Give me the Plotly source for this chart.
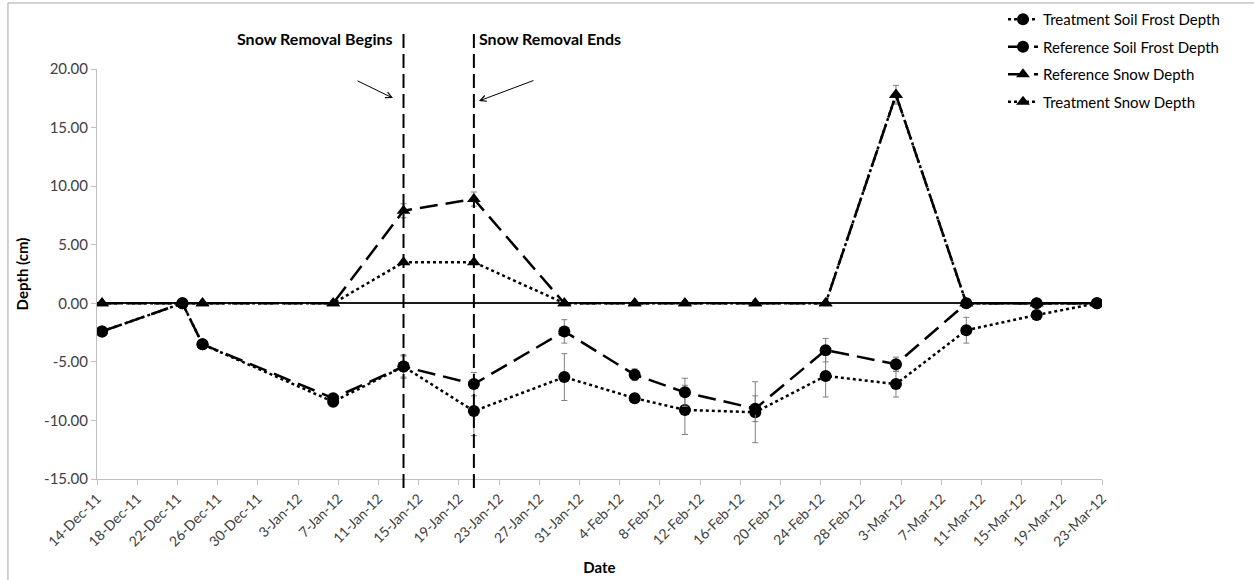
import pandas as pd
import plotly.graph_objects as go

# ---- data ----
dates = ["2011-12-14", "2011-12-22", "2011-12-24", "2012-01-06", "2012-01-13",
         "2012-01-20", "2012-01-29", "2012-02-05", "2012-02-10", "2012-02-17",
         "2012-02-24", "2012-03-02", "2012-03-09", "2012-03-16", "2012-03-22"]

treat_frost = [-2.4, 0.0, -3.5, -8.4, -5.4, -9.2, -6.3, -8.1, -9.1, -9.3, -6.2, -6.9, -2.3, -1.0, 0.0]
treat_frost_err = [None, None, None, 0.3, 0.9, 2.1, 2.0, 0.4, 2.1, 2.6, 1.8, 1.1, 1.1, None, None]

ref_frost = [-2.4, 0.0, -3.5, -8.1, -5.4, -6.9, -2.4, -6.1, -7.6, -9.0, -4.0, -5.2, 0.0, 0.0, 0.0]
ref_frost_err = [None, None, None, 0.3, 1.0, 1.0, 1.0, 0.5, 1.2, 1.1, 1.0, 0.6, None, None, None]

ref_snow = [0.0, None, 0.0, 0.0, 7.9, 8.9, 0.0, 0.0, 0.0, 0.0, 0.0, 17.8, 0.0, 0.0, 0.0]
ref_snow_err = [None, None, None, None, 0.6, 0.6, None, None, None, None, None, 0.8, None, None, None]

treat_snow = [0.0, None, 0.0, 0.0, 3.5, 3.5, 0.0, 0.0, 0.0, 0.0, 0.0, 17.8, 0.0, 0.0, 0.0]

removal_dates = ["2012-01-13", "2012-01-20"]

y_tick_vals = [-15, -10, -5, 0, 5, 10, 15, 20]
y_tick_text = ["-15.00", "-10.00", "-5.00", "0.00", "5.00", "10.00", "15.00", "20.00"]

# Excel date axis places each point in the middle of its day
x = pd.to_datetime(dates) + pd.Timedelta(hours=12)
xr = [pd.Timestamp(d) + pd.Timedelta(hours=12) for d in removal_dates]

FONT = "Lato"
TXT = "#404040"
DASH_LONG = "18px,8px"

fig = go.Figure()

def err(arr):
    return dict(type="data", array=arr, color="#7f7f7f", thickness=1, width=3)

fig.add_trace(go.Scatter(
    x=x, y=treat_frost, name="Treatment Soil Frost Depth", mode="lines+markers",
    line=dict(color="black", width=2.5, dash="dot"),
    marker=dict(symbol="circle", size=12, color="black"),
    error_y=err(treat_frost_err), legendgroup="g1", connectgaps=True))
fig.add_trace(go.Scatter(
    x=x, y=ref_frost, name="Reference Soil Frost Depth", mode="lines+markers",
    line=dict(color="black", width=2.5, dash=DASH_LONG),
    marker=dict(symbol="circle", size=12, color="black"),
    error_y=err(ref_frost_err), legendgroup="g2", connectgaps=True))
fig.add_trace(go.Scatter(
    x=x, y=ref_snow, name="Reference Snow Depth", mode="lines+markers",
    line=dict(color="black", width=2.5, dash=DASH_LONG),
    marker=dict(symbol="triangle-up", size=12, color="black"),
    error_y=err(ref_snow_err), legendgroup="g3", connectgaps=True))
fig.add_trace(go.Scatter(
    x=x, y=treat_snow, name="Treatment Snow Depth", mode="lines+markers",
    line=dict(color="black", width=2.5, dash="dot"),
    marker=dict(symbol="triangle-up", size=12, color="black"),
    legendgroup="g4", connectgaps=True))

# vertical snow removal lines
for d in xr:
    fig.add_shape(type="line", xref="x", yref="paper", x0=d, x1=d, y0=-0.022, y1=1.093,
                  line=dict(color="black", width=2, dash="14px,6px"))

# outer chart border
fig.add_shape(type="rect", xref="paper", yref="paper", x0=-0.0886, x1=1.4, y0=-0.5, y1=1.161,
              line=dict(color="#a6a6a6", width=1))

fig.add_annotation(text="<b>Snow Removal Begins</b>", xref="paper", yref="paper",
                   x=0.2965, y=1.0756, xanchor="right", yanchor="middle", showarrow=False,
                   font=dict(family=FONT, size=16, color="black"))
fig.add_annotation(text="<b>Snow Removal Ends</b>", xref="paper", yref="paper",
                   x=0.378, y=1.0756, xanchor="left", yanchor="middle", showarrow=False,
                   font=dict(family=FONT, size=16, color="black"))
fig.add_annotation(text="", xref="paper", yref="paper", x=0.2945, y=0.929,
                   ax=-37, ay=-18, showarrow=True, arrowhead=5, arrowsize=1.2,
                   arrowwidth=1, arrowcolor="black")
fig.add_annotation(text="", xref="paper", yref="paper", x=0.380, y=0.922,
                   ax=56, ay=-21, showarrow=True, arrowhead=5, arrowsize=1.2,
                   arrowwidth=1, arrowcolor="black")

fig.update_layout(
    width=1254, height=580,
    margin=dict(l=97, r=152, t=69, b=101, autoexpand=False),
    paper_bgcolor="white", plot_bgcolor="white",
    font=dict(family=FONT, size=14, color=TXT),
    legend=dict(x=0.9015, y=1.161, xanchor="left", yanchor="top",
                font=dict(family=FONT, size=15, color="black"),
                tracegroupgap=5, traceorder="grouped", bgcolor="rgba(0,0,0,0)"),
    xaxis=dict(type="date", range=["2011-12-14", "2012-03-23"],
               tick0="2011-12-14", dtick=4 * 86400000, tickformat="%-d-%b-%y",
               tickangle=-45, ticks="outside", ticklen=5, tickcolor="#bfbfbf",
               showline=True, linecolor="#bfbfbf", linewidth=1, showgrid=False,
               zeroline=False,
               title=dict(text="<b>Date</b>", font=dict(family=FONT, size=15, color="black"),
                          standoff=13),
               tickfont=dict(family=FONT, size=14, color=TXT)),
    yaxis=dict(range=[-15, 20], tickvals=y_tick_vals, ticktext=y_tick_text,
               ticks="outside", ticklen=5, tickcolor="#bfbfbf",
               showline=True, linecolor="#bfbfbf", linewidth=1, showgrid=False,
               zeroline=True, zerolinecolor="#1a1a1a", zerolinewidth=1.5,
               title=dict(text="<b>Depth (cm)</b>", font=dict(family=FONT, size=15, color="black"),
                          standoff=11),
               tickfont=dict(family=FONT, size=15, color=TXT)),
)

# remove the browser's default 8px page margin so the figure fills the window exactly
fig.write_html("out.html", config={"displayModeBar": False},
               post_script="document.body.style.margin='0px';")
